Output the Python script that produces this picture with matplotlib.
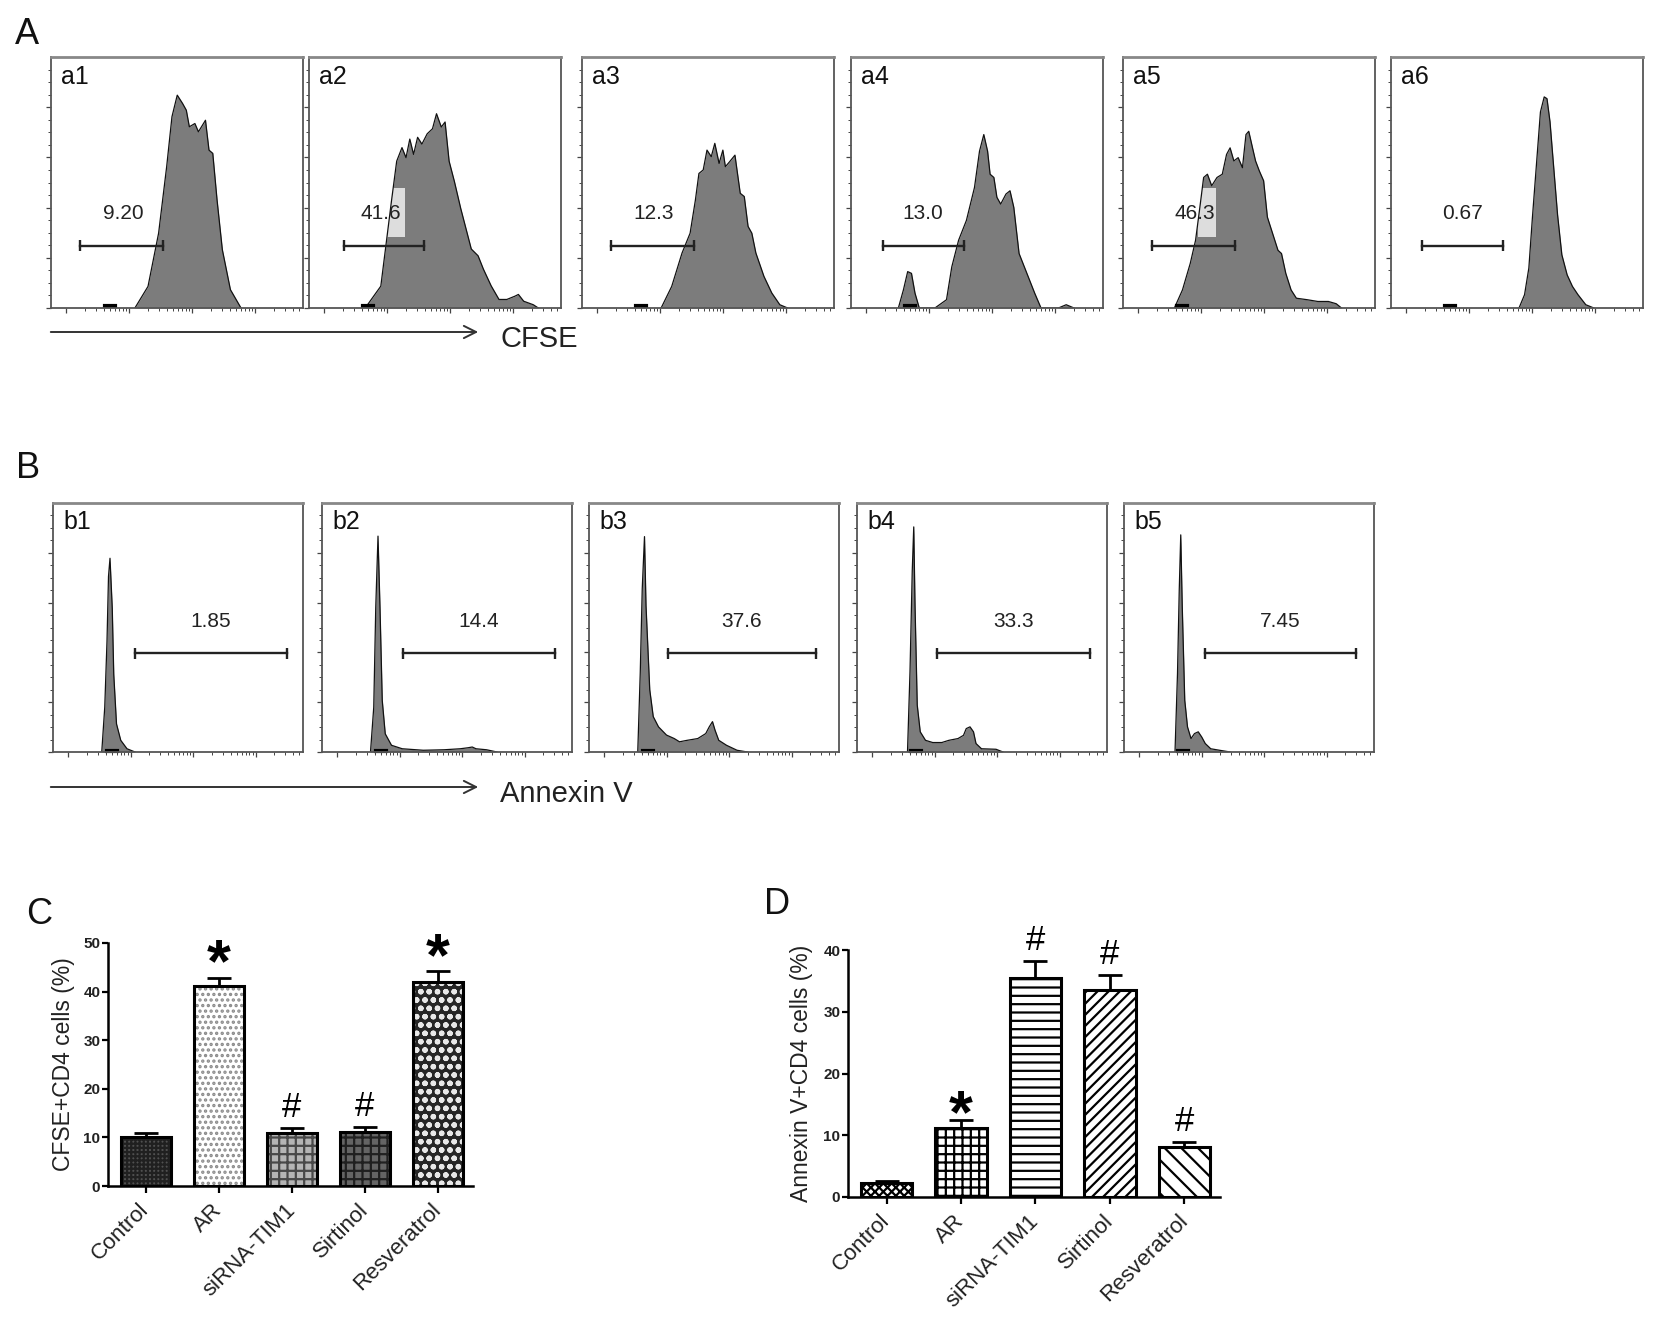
import matplotlib
matplotlib.use("Agg")
import matplotlib.pyplot as plt
from matplotlib.patches import Rectangle
import numpy as np

plt.rcParams['font.family'] = ['Liberation Sans', 'DejaVu Sans']
plt.rcParams['hatch.linewidth'] = 1.6

W, H = 1660, 1336

A1 = [(33.3, 0), (38.5, 8.6), (42.7, 29.8), (45.9, 56.3), (48.0, 76.2), (50.1, 84.8), (52.2, 81.5),
      (53.7, 78.8), (54.9, 72.2), (57.1, 73.5), (58.5, 70.2), (61.3, 74.8), (62.7, 62.9), (64.2, 61.6),
      (65.9, 43.0), (68.0, 23.2), (71.2, 7.3), (75.4, 0)]
A2 = [(22.3, 0), (28.5, 8.7), (32.7, 42.4), (34.8, 58.5), (36.9, 63.9), (38.5, 59.9), (40.0, 67.3),
      (41.5, 61.2), (43.1, 68.0), (44.8, 65.3), (46.9, 69.4), (49.0, 71.4), (50.6, 77.4), (52.5, 72.1),
      (54.0, 74.1), (55.6, 58.5), (57.7, 50.4), (60.2, 39.7), (62.3, 31.6), (64.4, 23.5), (67.1, 20.8),
      (69.2, 15.5), (72.3, 8.8), (75.4, 3.4), (78.5, 3.4), (81.7, 4.7), (83.1, 5.4), (85.2, 2.7),
      (89.0, 1.3), (91.0, 0)]
A3 = [(31.4, 0), (35.6, 8.6), (39.7, 21.9), (42.9, 29.8), (45.0, 43.0), (46.4, 53.6), (48.1, 55.0),
      (49.6, 62.9), (51.3, 60.3), (52.7, 65.6), (54.4, 57.6), (55.9, 62.9), (56.9, 56.3), (58.6, 58.3),
      (60.7, 60.9), (61.7, 53.6), (62.8, 45.7), (64.4, 44.4), (65.9, 32.5), (67.4, 29.8), (69.0, 21.9),
      (72.2, 12.6), (75.3, 6.0), (78.5, 1.3), (81.6, 0)]
A4 = [(18.8, 0), (20.8, 7.2), (22.5, 14.5), (24.0, 13.8), (25.4, 5.9), (27.1, 0), (33.3, 0), (37.9, 3.3),
      (40.0, 16.4), (42.7, 27.0), (45.8, 34.9), (49.0, 48.0), (51.0, 62.5), (52.7, 69.1), (54.2, 62.5),
      (55.2, 53.3), (56.7, 52.0), (57.9, 44.1), (59.4, 41.4), (61.5, 45.4), (63.1, 46.7), (64.6, 40.1),
      (66.7, 21.7), (69.8, 13.8), (72.9, 5.9), (75.4, 0), (82.3, 0), (85.4, 1.3), (88.5, 0)]
A5 = [(20.4, 0), (23.6, 7.2), (26.7, 17.8), (28.8, 27.0), (30.5, 40.1), (32.0, 52.0), (33.5, 53.3),
      (35.2, 48.7), (37.3, 52.0), (39.4, 53.3), (41.1, 61.2), (42.5, 63.8), (44.0, 58.6), (45.7, 59.9),
      (47.4, 55.9), (48.8, 69.1), (49.9, 70.4), (51.4, 63.8), (52.6, 58.6), (54.1, 54.6), (55.8, 50.7),
      (57.3, 36.2), (59.4, 29.6), (61.5, 23.0), (62.9, 21.7), (64.6, 13.8), (66.7, 7.2), (68.8, 3.9),
      (73.1, 3.3), (77.3, 2.6), (81.5, 2.6), (84.6, 1.7), (86.7, 0)]
A6 = [(50.8, 0), (53.0, 5.3), (54.7, 15.9), (56.1, 35.8), (57.6, 55.6), (59.3, 78.1), (60.8, 84.1),
      (61.9, 83.4), (63.1, 74.2), (64.6, 55.6), (66.1, 37.1), (67.8, 21.2), (69.9, 13.2), (72.0, 8.6),
      (74.2, 5.3), (77.3, 1.3), (80.5, 0)]
A_NAMES = ['a1', 'a2', 'a3', 'a4', 'a5', 'a6']
A_PCTS = ['9.20', '41.6', '12.3', '13.0', '46.3', '0.67']
A_GATES = [(11.6, 44.4), (14.0, 45.6), (11.5, 44.4), (12.5, 44.8), (11.6, 44.6), (12.3, 44.5)]

# ---- B: Annexin V histograms
B1 = [(19.5, 0), (20.7, 18.0), (21.6, 44.5), (22.2, 70.5), (22.8, 77.8), (23.7, 57.8), (24.3, 31.2),
      (25.4, 11.3), (27.1, 4.7), (29.6, 1.3), (32.8, 0)]
B2 = [(19.4, 0), (20.7, 18.0), (21.5, 58.0), (22.4, 86.7), (23.2, 58.0), (24.1, 20.7), (25.3, 7.3),
      (27.8, 2.7), (32.1, 1.3), (40.5, 0.7), (48.9, 0.9), (55.3, 1.3), (58.4, 1.7), (60.1, 2.0),
      (61.6, 1.3), (65.8, 0.9), (70.0, 0)]
B3 = [(19.5, 0), (20.5, 31.8), (21.3, 65.6), (22.2, 86.5), (22.8, 58.8), (24.3, 25.0), (25.7, 14.2),
      (27.8, 10.1), (31.0, 6.8), (34.1, 5.4), (36.2, 4.1), (39.3, 4.7), (43.5, 5.4), (46.7, 7.4),
      (48.1, 10.1), (49.4, 12.2), (50.4, 8.8), (51.9, 4.7), (55.0, 2.7), (59.2, 0.7), (63.4, 0)]
B4 = [(20.2, 0), (21.2, 32.3), (22.1, 72.7), (22.7, 90.4), (23.2, 59.2), (24.1, 18.8), (25.3, 8.1),
      (27.4, 4.7), (30.3, 3.8), (33.9, 3.8), (36.8, 4.7), (40.4, 5.4), (42.6, 6.7), (43.7, 9.4),
      (45.2, 10.1), (46.6, 8.1), (47.6, 3.4), (49.8, 1.3), (55.6, 1.1), (58.4, 0)]
B5 = [(20.4, 0), (21.4, 31.5), (22.1, 65.1), (22.7, 87.2), (23.3, 58.4), (24.3, 20.8), (25.4, 10.1),
      (26.8, 5.4), (28.2, 7.4), (29.7, 8.1), (31.1, 6.0), (32.5, 3.4), (34.7, 1.3), (38.2, 0.7), (42.5, 0)]
B_NAMES = ['b1', 'b2', 'b3', 'b4', 'b5']
B_PCTS = ['1.85', '14.4', '37.6', '33.3', '7.45']
B_GATES = [(32.8, 93.4), (32.5, 93.2), (31.4, 90.6), (32.0, 93.1), (32.2, 92.8)]

# ---- C / D: bar charts
GROUPS = ['Control', 'AR', 'siRNA-TIM1', 'Sirtinol', 'Resveratrol']
CFSE_MEAN = [10.0, 41.1, 11.0, 11.2, 41.9]
CFSE_SEM = [0.9, 1.8, 0.95, 1.0, 2.4]
CFSE_MARK = ['', '*', '#', '#', '*']
ANNEX_MEAN = [2.3, 11.2, 35.5, 33.5, 8.1]
ANNEX_SEM = [0.3, 1.35, 2.7, 2.4, 0.8]
ANNEX_MARK = ['', '*', '#', '#', '#']

fig = plt.figure(figsize=(W / 100, H / 100), dpi=100)


def px_axes(left, top, width, height):
    return fig.add_axes([left / W, 1 - (top + height) / H, width / W, height / H])


# overlay in pixel coordinates for panel letters and arrows
ov = px_axes(0, 0, W, H)
ov.set_xlim(0, W)
ov.set_ylim(H, 0)
ov.axis('off')
for letter, (x, y) in zip('ABCD', [(27, 35), (28, 469), (39, 914), (777, 904)]):
    ov.text(x, y, letter, fontsize=26, ha='center', va='center', color='#111')
for y, name in [(332, 'CFSE'), (787, 'Annexin V')]:
    ov.annotate('', xy=(481, y), xytext=(48, y),
                arrowprops=dict(arrowstyle='->', lw=1.4, color='#333', mutation_scale=22))
    ov.text(500, y + 7, name, fontsize=21, ha='left', va='center', color='#222')


def flow_panel(ax, hist, name, pct, gate, gate_y, label_x, label_y, highlight=None):
    xs, ys = np.array(hist).T
    ax.fill_between(xs, ys, color='#7c7c7c', lw=0)
    ax.plot(xs, ys, color='#111', lw=0.9)
    ax.set_xlim(0, 100)
    ax.set_ylim(0, 100)
    for s in ax.spines.values():
        s.set_color('#555')
        s.set_linewidth(1.3)
    ax.spines['top'].set_color('#888')
    ax.spines['top'].set_linewidth(2.0)
    ax.set_yticks(np.arange(0, 100, 20))
    ax.set_yticks(np.arange(0, 100, 5), minor=True)
    decades = [6, 31, 56, 81]
    minor = [d + 25 * np.log10(k) for d in decades for k in range(2, 10) if d + 25 * np.log10(k) < 100]
    ax.set_xticks(decades)
    ax.set_xticks(minor, minor=True)
    ax.tick_params(which='major', length=3.5, width=0.9, color='#444', labelleft=False, labelbottom=False)
    ax.tick_params(which='minor', length=2.0, width=0.7, color='#444')
    ax.plot([21.5, 25.5], [0.6, 0.6], color='black', lw=3, clip_on=False)
    if highlight is not None:
        x0, y0, x1, y1 = highlight
        ax.add_patch(Rectangle((x0, y0), x1 - x0, y1 - y0, color='white', alpha=0.75, lw=0))
    lo, hi = gate
    ax.plot([lo, hi], [gate_y, gate_y], color='#222', lw=1.7)
    ax.vlines([lo, hi], gate_y - 2.2, gate_y + 2.2, color='#222', lw=1.7)
    ax.text(label_x, label_y, pct, fontsize=15, ha='center', va='center', color='#222')
    ax.text(4, 97, name, fontsize=18, ha='left', va='top', color='#111')


A_LEFTS = [51, 309, 582, 851, 1123, 1391]
A_HIGHLIGHT = [None, (30.6, 28.3, 37.9, 47.8), None, None, (29.9, 28.3, 36.8, 48.0), None]
for i, hist in enumerate([A1, A2, A3, A4, A5, A6]):
    ax = px_axes(A_LEFTS[i], 57, 252, 251)
    flow_panel(ax, hist, A_NAMES[i], A_PCTS[i], A_GATES[i], 24.9, 28.5, 37.5, A_HIGHLIGHT[i])

B_LEFTS = [53, 322, 589, 857, 1124]
for i, hist in enumerate([B1, B2, B3, B4, B5]):
    ax = px_axes(B_LEFTS[i], 503, 250, 249)
    lo, hi = B_GATES[i]
    flow_panel(ax, hist, B_NAMES[i], B_PCTS[i], B_GATES[i], 39.7, (lo + hi) / 2, 52.3)


def bar_panel(ax, means, sems, marks, faces, hatch_cols, hatches, ymax, ylabel, star_dy):
    pos = np.arange(len(GROUPS))
    ax.errorbar(pos, means, yerr=[np.zeros(len(means)), sems], fmt='none', ecolor='black',
                elinewidth=2.0, capsize=8.5, capthick=2.0, zorder=1)
    bars = ax.bar(pos, means, width=0.69, color=faces, edgecolor=hatch_cols, lw=0, zorder=2)
    for b, h in zip(bars, hatches):
        b.set_hatch(h)
    ax.bar(pos, means, width=0.69, fill=False, edgecolor='black', lw=2.2, zorder=3)
    for x, m, s, mk in zip(pos, means, sems, marks):
        if mk == '*':
            ax.annotate('*', (x, m + s), xytext=(0, star_dy), textcoords='offset points',
                        ha='center', va='baseline', fontsize=44, fontweight='bold')
        elif mk == '#':
            ax.annotate('#', (x, m + s), xytext=(0, 8), textcoords='offset points',
                        ha='center', va='baseline', fontsize=25)
    ax.set_xlim(-0.52, 4.48)
    ax.set_ylim(0, ymax)
    ax.set_yticks(np.arange(0, ymax + 1, 10))
    ax.set_xticks(pos)
    ax.set_xticklabels(GROUPS, rotation=45, ha='right', va='center', rotation_mode='anchor',
                       fontsize=16, color='#222')
    for lab in ax.get_yticklabels():
        lab.set_fontweight('bold')
        lab.set_fontsize(11)
        lab.set_color('#222')
    ax.spines[['top', 'right']].set_visible(False)
    ax.spines[['left', 'bottom']].set_linewidth(1.8)
    ax.tick_params(axis='y', length=4.5, width=1.6, pad=1)
    ax.tick_params(axis='x', length=5, width=1.6, pad=10)
    ax.set_ylabel(ylabel, fontsize=16.5, color='#222', va='center')


axc = px_axes(108, 943, 365, 243)
bar_panel(axc, CFSE_MEAN, CFSE_SEM, CFSE_MARK,
          ['#505050', 'white', '#b4b4b4', '#646464', '#262626'],
          ['#202020', '#8a8a8a', '#484848', '#202020', '#e8e8e8'],
          ['++++', '...', '++', '++', 'oo'], 50, 'CFSE+CD4 cells (%)', -3)
axc.yaxis.set_label_coords(-0.123, 0.5)

axd = px_axes(848, 950, 372, 247)
bar_panel(axd, ANNEX_MEAN, ANNEX_SEM, ANNEX_MARK,
          ['white'] * 5, ['black'] * 5,
          ['xxxx', '++', '--', '///', '\\\\'], 40, 'Annexin V+CD4 cells (%)', -9)
axd.yaxis.set_label_coords(-0.124, 0.5)

fig.savefig('out.png', dpi=100)
